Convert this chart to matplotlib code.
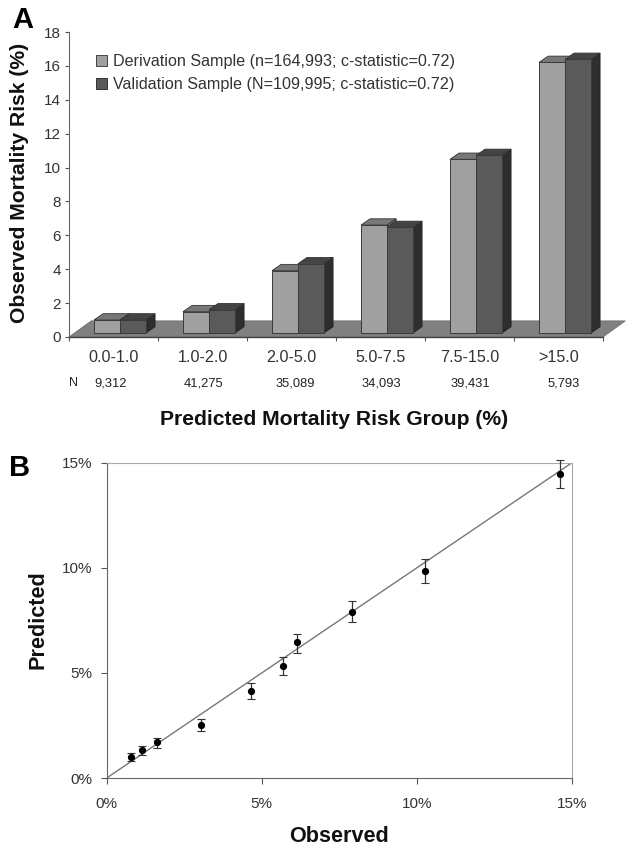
import matplotlib
matplotlib.use("Agg")
import matplotlib.pyplot as plt
from matplotlib.patches import Polygon, Patch
from matplotlib.ticker import FuncFormatter

plt.rcParams['font.family'] = ['Liberation Sans', 'DejaVu Sans']

groups = ['0.0-1.0', '1.0-2.0', '2.0-5.0', '5.0-7.5', '7.5-15.0', '>15.0']
counts = ['9,312', '41,275', '35,089', '34,093', '39,431', '5,793']
derivation = [0.77, 1.26, 3.68, 6.37, 10.25, 15.97]
validation = [0.77, 1.37, 4.09, 6.23, 10.48, 16.15]
label_d = 'Derivation Sample (n=164,993; c-statistic=0.72)'
label_v = 'Validation Sample (N=109,995; c-statistic=0.72)'

observed = [0.77, 1.14, 1.62, 3.05, 4.66, 5.68, 6.14, 7.90, 10.25, 14.60]
predicted = [0.98, 1.32, 1.70, 2.51, 4.14, 5.35, 6.46, 7.92, 9.87, 14.48]
pred_low = [0.80, 1.10, 1.41, 2.22, 3.74, 4.88, 5.97, 7.41, 9.27, 13.82]
pred_high = [1.17, 1.54, 1.90, 2.81, 4.50, 5.75, 6.86, 8.44, 10.41, 15.11]

W, H = 628, 846
fig = plt.figure(figsize=(W / 100, H / 100), dpi=100, facecolor='white')

def axes_px(l, t, r, b):
    return fig.add_axes([l / W, 1 - b / H, (r - l) / W, (b - t) / H])

def fx(px):
    return px / W

def fy(py):
    return 1 - py / H

# ---------- Panel A ----------
ax = axes_px(69, 32, 603, 337)
ax.set_xlim(0, 6)
ax.set_ylim(0, 18)
ax.patch.set_alpha(0)

DX, DY = 0.102, 0.37      # bar depth
FX, FY = 0.25, 0.95       # floor depth
BASE = 0.236              # front base of bars above the axis line
OFF, BW = 0.281, 0.292

ax.add_patch(Polygon([(0, 0), (6, 0), (6 + FX, FY), (FX, FY)], closed=True,
                     fc='#808080', ec='#707070', lw=0.6, clip_on=False, zorder=1))

def bar3d(x, h, front, top, side, z):
    y1 = BASE + h
    ax.add_patch(Polygon([(x + BW, BASE), (x + BW + DX, BASE + DY), (x + BW + DX, y1 + DY), (x + BW, y1)],
                         closed=True, fc=side, ec='#222222', lw=0.6, clip_on=False, zorder=z))
    ax.add_patch(Polygon([(x, y1), (x + BW, y1), (x + BW + DX, y1 + DY), (x + DX, y1 + DY)],
                         closed=True, fc=top, ec='#333333', lw=0.6, clip_on=False, zorder=z))
    ax.bar(x, h, width=BW, bottom=BASE, align='edge', color=front, edgecolor='#3a3a3a',
           linewidth=0.7, zorder=z + 0.1, clip_on=False)

for i, (d, v) in enumerate(zip(derivation, validation)):
    bar3d(i + OFF, d, '#a0a0a0', '#787878', '#6a6a6a', 2 + i)
    bar3d(i + OFF + BW, v, '#5a5a5a', '#444444', '#2e2e2e', 2.5 + i)

for s in ('top', 'right'):
    ax.spines[s].set_visible(False)
ax.spines['left'].set_color('#666666')
ax.spines['bottom'].set_color('#444444')
ax.spines['bottom'].set_linewidth(1.0)
ax.spines['bottom'].set_zorder(20)
ax.set_yticks(range(0, 19, 2))
ax.set_xticks(range(7))
ax.set_xticklabels([])
ax.tick_params(axis='both', length=3, width=0.8, color='#555555')
ax.tick_params(axis='y', labelsize=11, labelcolor='#333333', pad=3)

for i, g in enumerate(groups):
    ax.text(i + 0.5, -20 / 305, g, transform=ax.get_xaxis_transform(), ha='center', va='center',
            fontsize=11.6, color='#333333')

count_px = [111, 204, 295, 381, 470, 564]
fig.text(fx(74), fy(383), 'N', ha='center', va='center', fontsize=9, color='#222222')
for c, px in zip(counts, count_px):
    fig.text(fx(px), fy(383), c, ha='center', va='center', fontsize=9.3, color='#222222')

fig.text(fx(334), fy(419), 'Predicted Mortality Risk Group (%)', ha='center', va='center',
         fontsize=15.2, fontweight='bold', color='#111111')
fig.text(fx(20), fy(183), 'Observed Mortality Risk (%)', ha='center', va='center', rotation=90,
         fontsize=15.2, fontweight='bold', color='#111111')
fig.text(fx(23), fy(20), 'A', ha='center', va='center', fontsize=21, fontweight='bold', color='black')
fig.text(fx(20), fy(468), 'B', ha='center', va='center', fontsize=21, fontweight='bold', color='black')

handles = [Patch(fc='#a0a0a0', ec='#444444', lw=0.7, label=label_d),
           Patch(fc='#5a5a5a', ec='#333333', lw=0.7, label=label_v)]
ax.legend(handles=handles, loc='upper left', bbox_to_anchor=(fx(93), fy(51)), bbox_transform=fig.transFigure,
          frameon=False, fontsize=11.6, labelcolor='#333333', handlelength=0.69, handleheight=0.65,
          handletextpad=0.33, labelspacing=0.5, borderpad=0.2, borderaxespad=0)

# ---------- Panel B ----------
bx = axes_px(106.7, 462.7, 572, 778)
bx.set_xlim(0, 15)
bx.set_ylim(0, 15)
bx.plot([0, 15], [0, 15], color='#777777', lw=1.0, zorder=2)
yerr = [[p - l for p, l in zip(predicted, pred_low)], [h - p for p, h in zip(predicted, pred_high)]]
bx.errorbar(observed, predicted, yerr=yerr, fmt='o', color='black', ms=4.2, ecolor='#333333',
            elinewidth=0.9, capsize=2.6, capthick=0.8, clip_on=False, zorder=3)
for s in ('top', 'right'):
    bx.spines[s].set_color('#aaaaaa')
for s in ('left', 'bottom'):
    bx.spines[s].set_color('#666666')
ticks = [0, 5, 10, 15]
bx.set_xticks(ticks)
bx.set_yticks(ticks)
fmt = FuncFormatter(lambda v, _: f'{v:.0f}%')
bx.xaxis.set_major_formatter(fmt)
bx.yaxis.set_major_formatter(fmt)
bx.tick_params(axis='both', length=4, width=0.8, color='#555555', labelsize=11, labelcolor='#333333')
bx.tick_params(axis='x', pad=10)
bx.tick_params(axis='y', pad=6)

fig.text(fx(339), fy(836), 'Observed', ha='center', va='center', fontsize=15.6, fontweight='bold', color='#111111')
fig.text(fx(38), fy(620), 'Predicted', ha='center', va='center', rotation=90, fontsize=15.6,
         fontweight='bold', color='#111111')

fig.savefig('out.png', dpi=100)
